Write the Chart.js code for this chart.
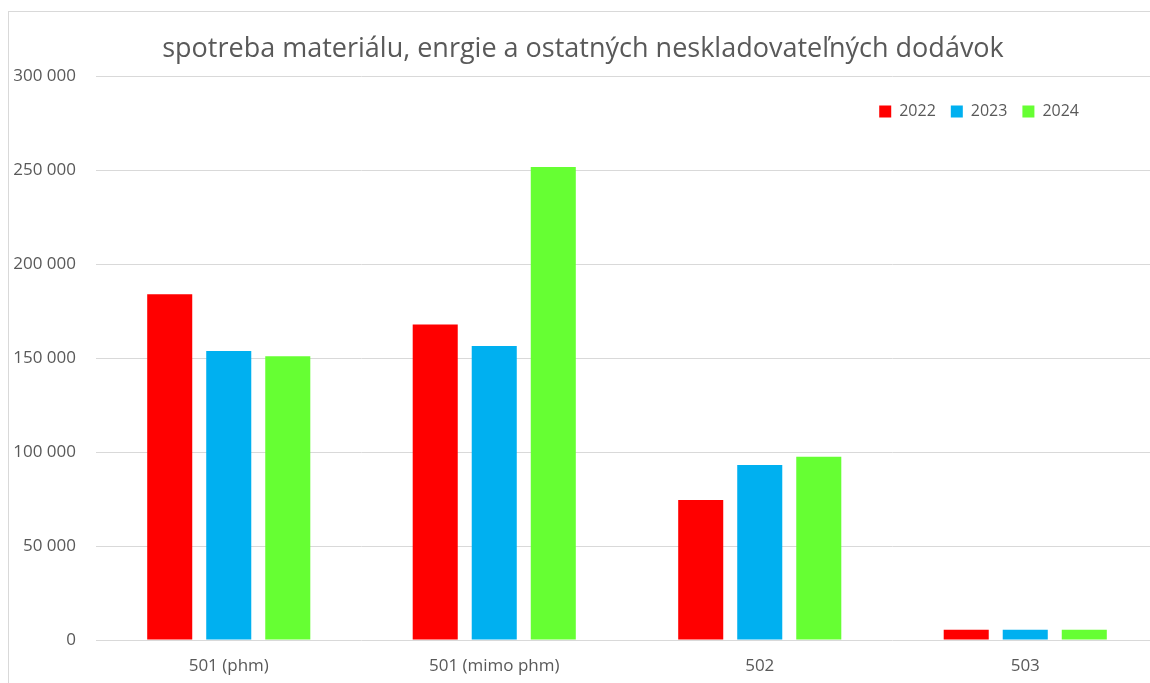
<!DOCTYPE html>
<html>
<head>
<meta charset="utf-8">
<title>spotreba materiálu</title>
<script src="https://cdn.jsdelivr.net/npm/chart.js@4.4.0/dist/chart.umd.min.js"></script>
<style>
    html, body { margin: 0; padding: 0; background: #ffffff; overflow: hidden; }
    .frame {
        position: absolute; left: 8px; top: 11px;
        width: 1200px; height: 720px;
        border: 1px solid #d9d9d9;
    }
    #chart { position: absolute; left: 8px; top: 11px; }
</style>
</head>
<body>
<div class="frame"></div>
<canvas id="chart" width="1154" height="672"></canvas>
<script>
// chart data
const title = 'spotreba materiálu, enrgie a ostatných neskladovateľných dodávok';
const categories = ['501 (phm)', '501 (mimo phm)', '502', '503'];
const years = ['2022', '2023', '2024'];
const values2022 = [184000, 168000, 74500, 5500];
const values2023 = [153800, 156500, 93200, 5500];
const values2024 = [151000, 251800, 97600, 5500];
const colors = ['#ff0000', '#00b0f0', '#66ff33'];

const textColor = '#595959';
const fontFamily = "'Open Sans', 'Liberation Sans', sans-serif";

// legend takes no room in the layout (maxHeight 1), then gets moved
// inside the plot area, top right
const legendInside = {
    id: 'legendInside',
    afterLayout(chart) {
        const lg = chart.legend;
        const area = chart.chartArea;
        const w = lg.right - lg.left;
        lg.top = area.top + 12;
        lg.height = 40;
        lg.bottom = lg.top + lg.height;
        lg.right = area.right - 64;
        lg.left = lg.right - w;
    }
};

function formatThousands(v) {
    return String(v).replace(/\B(?=(\d{3})+(?!\d))/g, ' ');
}

const ctx = document.getElementById('chart').getContext('2d');
new Chart(ctx, {
    type: 'bar',
    data: {
        labels: categories,
        datasets: [
            { label: years[0], data: values2022, backgroundColor: colors[0] },
            { label: years[1], data: values2023, backgroundColor: colors[1] },
            { label: years[2], data: values2024, backgroundColor: colors[2] }
        ]
    },
    options: {
        responsive: false,
        animation: false,
        devicePixelRatio: 1,
        layout: { padding: { left: 0, right: 4, top: 0, bottom: 0 } },
        datasets: {
            bar: {
                categoryPercentage: 0.667,
                barPercentage: 0.763,
                borderWidth: 0
            }
        },
        plugins: {
            title: {
                display: true,
                text: title,
                color: textColor,
                font: { family: fontFamily, size: 27, weight: 'normal' },
                padding: { top: 22, bottom: 10 }
            },
            legend: {
                position: 'top',
                align: 'end',
                maxHeight: 1,
                labels: {
                    color: textColor,
                    font: { family: fontFamily, size: 16 },
                    boxWidth: 12,
                    boxHeight: 12,
                    padding: 15
                }
            },
            tooltip: { enabled: false }
        },
        scales: {
            x: {
                afterFit: function(scale) { scale.height = 43; },
                grid: { display: false, drawTicks: false },
                border: { display: false },
                ticks: {
                    color: textColor,
                    font: { family: fontFamily, size: 17 },
                    padding: 16,
                    maxRotation: 0
                }
            },
            y: {
                min: 0,
                max: 300000,
                afterFit: function(scale) { scale.width = 88; },
                grid: { color: '#d9d9d9', lineWidth: 1, drawTicks: false },
                border: { display: false },
                ticks: {
                    stepSize: 50000,
                    color: textColor,
                    font: { family: fontFamily, size: 17 },
                    padding: 20,
                    callback: function(value) { return formatThousands(value); }
                }
            }
        }
    },
    plugins: [legendInside]
});
</script>
</body>
</html>
